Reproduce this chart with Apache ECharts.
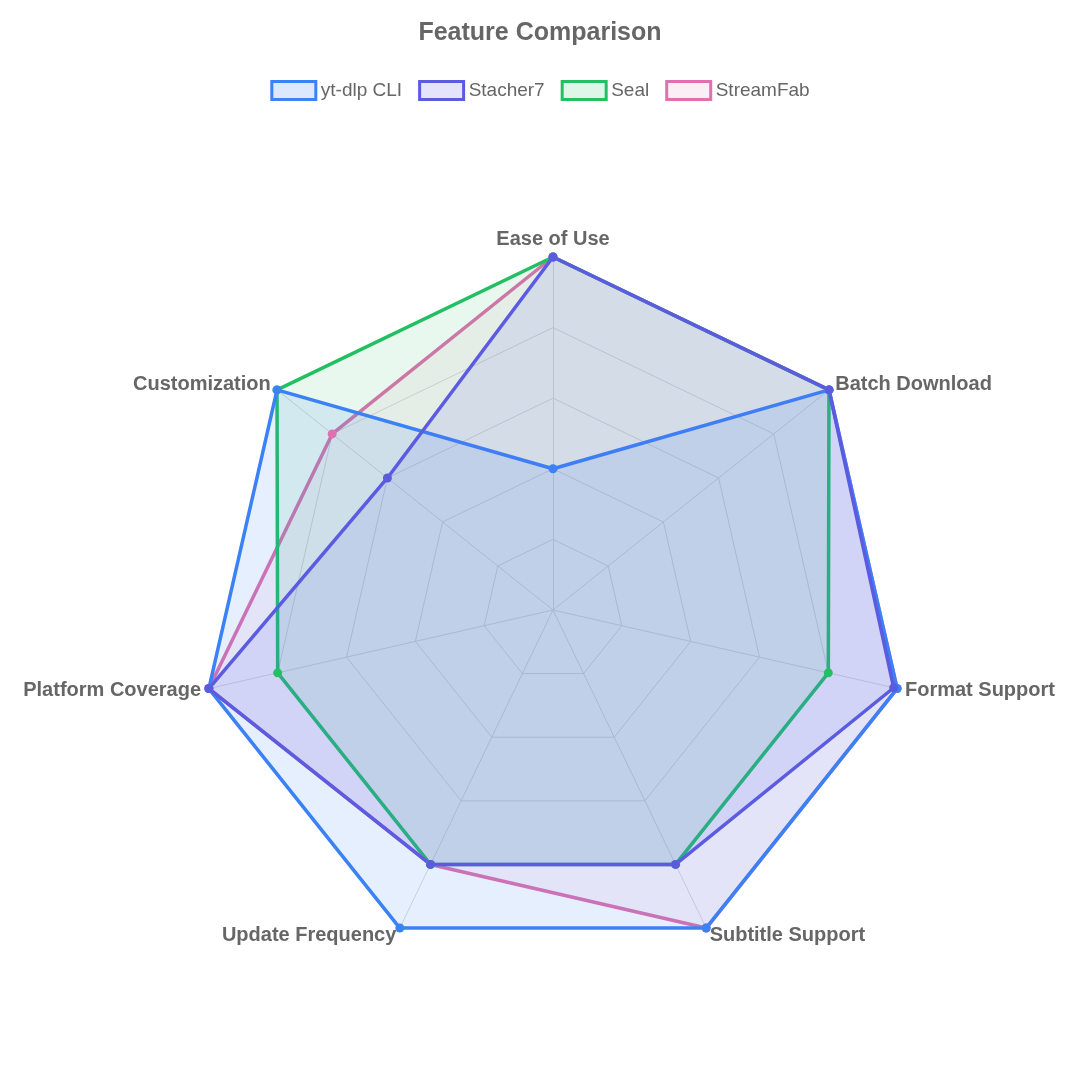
<!DOCTYPE html>
<html><head><meta charset="utf-8">
<script src="https://cdn.jsdelivr.net/npm/echarts@6/dist/echarts.min.js"></script>
<style>html,body{margin:0;background:#fff}#c{width:1080px;height:1080px}</style>
</head><body><div id="c"></div>
<script>
// indicator order as drawn counter-clockwise by ECharts starting at top
const indicators = ['Ease of Use','Customization','Platform Coverage','Update Frequency','Subtitle Support','Format Support','Batch Download'];
const seriesNames = ['yt-dlp CLI','Stacher7','Seal','StreamFab'];
const ytdlp =     [4, 10, 10, 10, 10, 10, 10];
const stacher7 =  [10, 6, 10, 8, 8, 9.9, 10];
const seal =      [10, 10, 8, 8, 8, 8, 10];
const streamfab = [10, 8, 10, 8, 10, 10, 10];
const values = [ytdlp, stacher7, seal, streamfab];
const colors = ['#3b82f6','#5b5be0','#22c063','#e070b0'];
const fills = ['rgba(59,130,246,0.18)','rgba(99,102,241,0.18)','rgba(34,192,99,0.15)','rgba(224,112,176,0.12)'];
const drawOrder = [3,2,0,1];
const F = '"Liberation Sans", Arial, sans-serif';

const chart = echarts.init(document.getElementById('c'));
chart.setOption({
  backgroundColor:'#fff',
  title:{text:'Feature Comparison',left:'center',top:16,textStyle:{fontSize:25,fontWeight:'bold',color:'#666',fontFamily:F}},
  legend:{top:75,left:'center',itemWidth:44,itemHeight:18,itemGap:16,icon:'rect',
    textStyle:{fontSize:19,color:'#666',fontFamily:F},
    data:seriesNames.map((n,i)=>({name:n,itemStyle:{color:fills[i],borderColor:colors[i],borderWidth:3}}))},
  radar:{center:[553,610],radius:353,startAngle:90,splitNumber:5,shape:'polygon',
    indicator:indicators.map(n=>({name:n,min:0,max:10})),
    axisName:{color:'#666',fontSize:20,fontWeight:'bold',fontFamily:F},
    nameGap:8,
    splitLine:{lineStyle:{color:'#dcdcdc'}},
    axisLine:{lineStyle:{color:'#dcdcdc'}},
    splitArea:{show:false}},
  series:drawOrder.map(i=>({type:'radar',name:seriesNames[i],z:2,
    data:[{name:seriesNames[i],value:values[i],symbol:'circle',symbolSize:9,
      lineStyle:{color:colors[i],width:3.5},itemStyle:{color:colors[i]},areaStyle:{color:fills[i]}}]}))
});
</script></body></html>
